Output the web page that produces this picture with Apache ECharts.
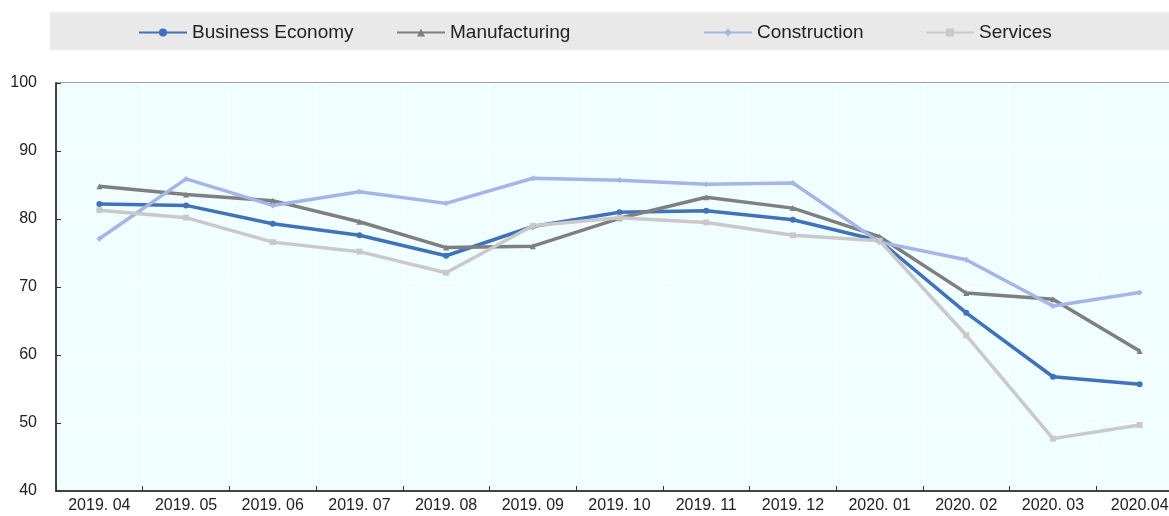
<!DOCTYPE html>
<html>
<head>
<meta charset="utf-8">
<script src="https://cdn.jsdelivr.net/npm/echarts@6/dist/echarts.min.js"></script>
<style>
  html, body { margin: 0; padding: 0; background: #fff; }
  #chart { width: 1169px; height: 516px; }
</style>
</head>
<body>
<div id="chart"></div>
<script>
  var months = ['2019. 04', '2019. 05', '2019. 06', '2019. 07', '2019. 08', '2019. 09', '2019. 10',
    '2019. 11', '2019. 12', '2020. 01', '2020. 02', '2020. 03', '2020.04'];
  var businessEconomy = [82.2, 82.0, 79.3, 77.6, 74.6, 78.9, 81.0, 81.2, 79.9, 76.8, 66.2, 56.8, 55.7];
  var manufacturing = [84.8, 83.6, 82.7, 79.6, 75.8, 76.0, 80.1, 83.2, 81.6, 77.4, 69.1, 68.2, 60.6];
  var construction = [77.1, 85.9, 82.0, 84.0, 82.3, 86.0, 85.7, 85.1, 85.3, 76.6, 74.0, 67.2, 69.2];
  var services = [81.3, 80.2, 76.6, 75.2, 72.1, 79.0, 80.2, 79.5, 77.6, 76.8, 62.9, 47.7, 49.7];

  var chart = echarts.init(document.getElementById('chart'));

  function makeSeries (name, data, color, symbol) {
    return {
      name: name,
      type: 'line',
      data: data,
      symbol: symbol,
      symbolSize: 6,
      showSymbol: true,
      itemStyle: { color: color },
      lineStyle: { color: color, width: 3.5 },
      emphasis: { disabled: true }
    };
  }

  function makeLegend (name, left) {
    return {
      data: [name],
      left: left,
      top: 23,
      padding: 0,
      itemWidth: 48,
      itemHeight: 10,
      textStyle: { fontSize: 19, color: '#222', fontFamily: 'Liberation Sans' },
      itemGap: 0
    };
  }

  chart.setOption({
    animation: false,
    graphic: [{
      type: 'rect',
      shape: { x: 50, y: 12, width: 1125, height: 38 },
      style: { fill: '#e9e9e9', stroke: '#f4f4f4' },
      z: -1
    }],
    legend: [
      makeLegend('Business Economy', 138),
      makeLegend('Manufacturing', 396),
      makeLegend('Construction', 703),
      makeLegend('Services', 925)
    ],
    grid: {
      left: 56,
      top: 83,
      width: 1127,
      bottom: 25,
      outerBoundsMode: 'none',
      show: true,
      backgroundColor: '#f0feff',
      borderColor: '#444',
      borderWidth: 1
    },
    xAxis: {
      type: 'category',
      data: months,
      boundaryGap: true,
      axisLine: { lineStyle: { color: '#444', width: 2 } },
      axisTick: { show: true, inside: true, length: 5, lineStyle: { color: '#333' } },
      axisLabel: { fontSize: 16, color: '#222', margin: 7, fontFamily: 'Liberation Sans' },
      splitLine: { show: true, lineStyle: { color: '#ffffff', width: 1 } }
    },
    yAxis: {
      type: 'value',
      min: 40,
      max: 100,
      interval: 10,
      axisLine: { show: true, lineStyle: { color: '#444', width: 2 } },
      axisTick: { show: true, inside: true, length: 5, lineStyle: { color: '#333' } },
      axisLabel: { fontSize: 16, color: '#222', margin: 19, fontFamily: 'Liberation Sans' },
      splitLine: { show: true, lineStyle: { color: '#ffffff', width: 1 } }
    },
    series: [
      makeSeries('Business Economy', businessEconomy, '#3f72b9', 'circle'),
      makeSeries('Manufacturing', manufacturing, '#7f7f7f', 'triangle'),
      makeSeries('Construction', construction, '#a4b5e6', 'diamond'),
      makeSeries('Services', services, '#c9c9c9', 'rect')
    ]
  });
</script>
</body>
</html>
